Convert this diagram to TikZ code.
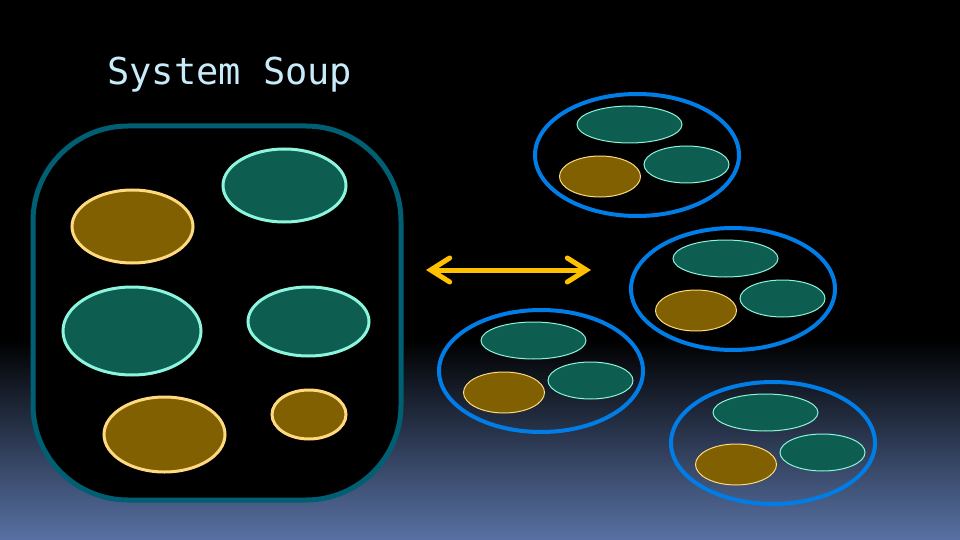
\documentclass[tikz,border=0pt]{standalone}
\usepackage{fontspec}
\newfontfamily\titlefont{DejaVu Sans Mono}
\usetikzlibrary{shapes.geometric,arrows.meta,calc}
\definecolor{bgbottom}{RGB}{88,113,163}
\definecolor{boxline}{RGB}{0,95,115}
\definecolor{brownfill}{RGB}{128,96,0}
\definecolor{brownline}{RGB}{255,217,128}
\definecolor{tealfill}{RGB}{13,93,80}
\definecolor{tealline}{RGB}{140,245,220}
\definecolor{groupline}{RGB}{0,125,230}
\definecolor{arrowcol}{RGB}{255,192,0}
\definecolor{titlecol}{RGB}{200,235,250}
\tikzset{
  brownbig/.style={ellipse,draw=brownline,fill=brownfill,line width=3pt,inner sep=0pt},
  tealbig/.style={ellipse,draw=tealline,fill=tealfill,line width=3pt,inner sep=0pt},
  brownsmall/.style={ellipse,draw=brownline,fill=brownfill,line width=1pt,inner sep=0pt},
  tealsmall/.style={ellipse,draw=tealline,fill=tealfill,line width=1pt,inner sep=0pt},
  groupring/.style={ellipse,draw=groupline,line width=4pt,inner sep=0pt,minimum width=204pt,minimum height=122pt},
  soupbox/.style={rectangle,draw=boxline,fill=black,line width=5pt,rounded corners=95pt,inner sep=0pt},
  barbtip/.tip={Straight Barb[length=19pt,width=24pt,line cap=round,line join=miter]},
}
\begin{document}
\begin{tikzpicture}[x=1pt,y=-1pt]
\useasboundingbox (0,0) rectangle (960,540);
\fill[black] (0,0) rectangle (960,341);
\shade[top color=black,bottom color=bgbottom] (0,340) rectangle (960,540);
\node[anchor=base west,inner sep=0pt,text=titlecol,font=\titlefont\fontsize{37}{40}\selectfont] (title) at (107,85) {System Soup};
\node[soupbox,minimum width=368pt,minimum height=374pt] (soup) at (217,313) {};
\node[brownbig,minimum width=121pt,minimum height=73pt] (s1) at (132.5,226.5) {};
\node[tealbig,minimum width=123pt,minimum height=73pt] (s2) at (284.5,185.5) {};
\node[tealbig,minimum width=138pt,minimum height=88pt] (s3) at (132,331) {};
\node[tealbig,minimum width=121pt,minimum height=69pt] (s4) at (308.5,321.5) {};
\node[brownbig,minimum width=121pt,minimum height=75pt] (s5) at (164.5,434.5) {};
\node[brownbig,minimum width=74pt,minimum height=49pt] (s6) at (309,414.5) {};
\coordinate (al) at (426,270);
\coordinate (ar) at (591,270);
\draw[arrowcol,line width=5pt,line cap=round,barbtip-barbtip] (al) -- (ar);
\foreach \i/\cx/\cy in {1/637/155,2/733/289,3/541/371,4/773/443}{
  \node[groupring] (g\i) at (\cx,\cy) {};
  \node[tealsmall,minimum width=105pt,minimum height=37pt] (g\i t) at ($(g\i.center)+(-7.5,-30.5)$) {};
  \node[brownsmall,minimum width=81pt,minimum height=41pt] (g\i b) at ($(g\i.center)+(-37,21.5)$) {};
  \node[tealsmall,minimum width=85pt,minimum height=37pt] (g\i r) at ($(g\i.center)+(49.5,9.5)$) {};
}
\end{tikzpicture}
\end{document}
